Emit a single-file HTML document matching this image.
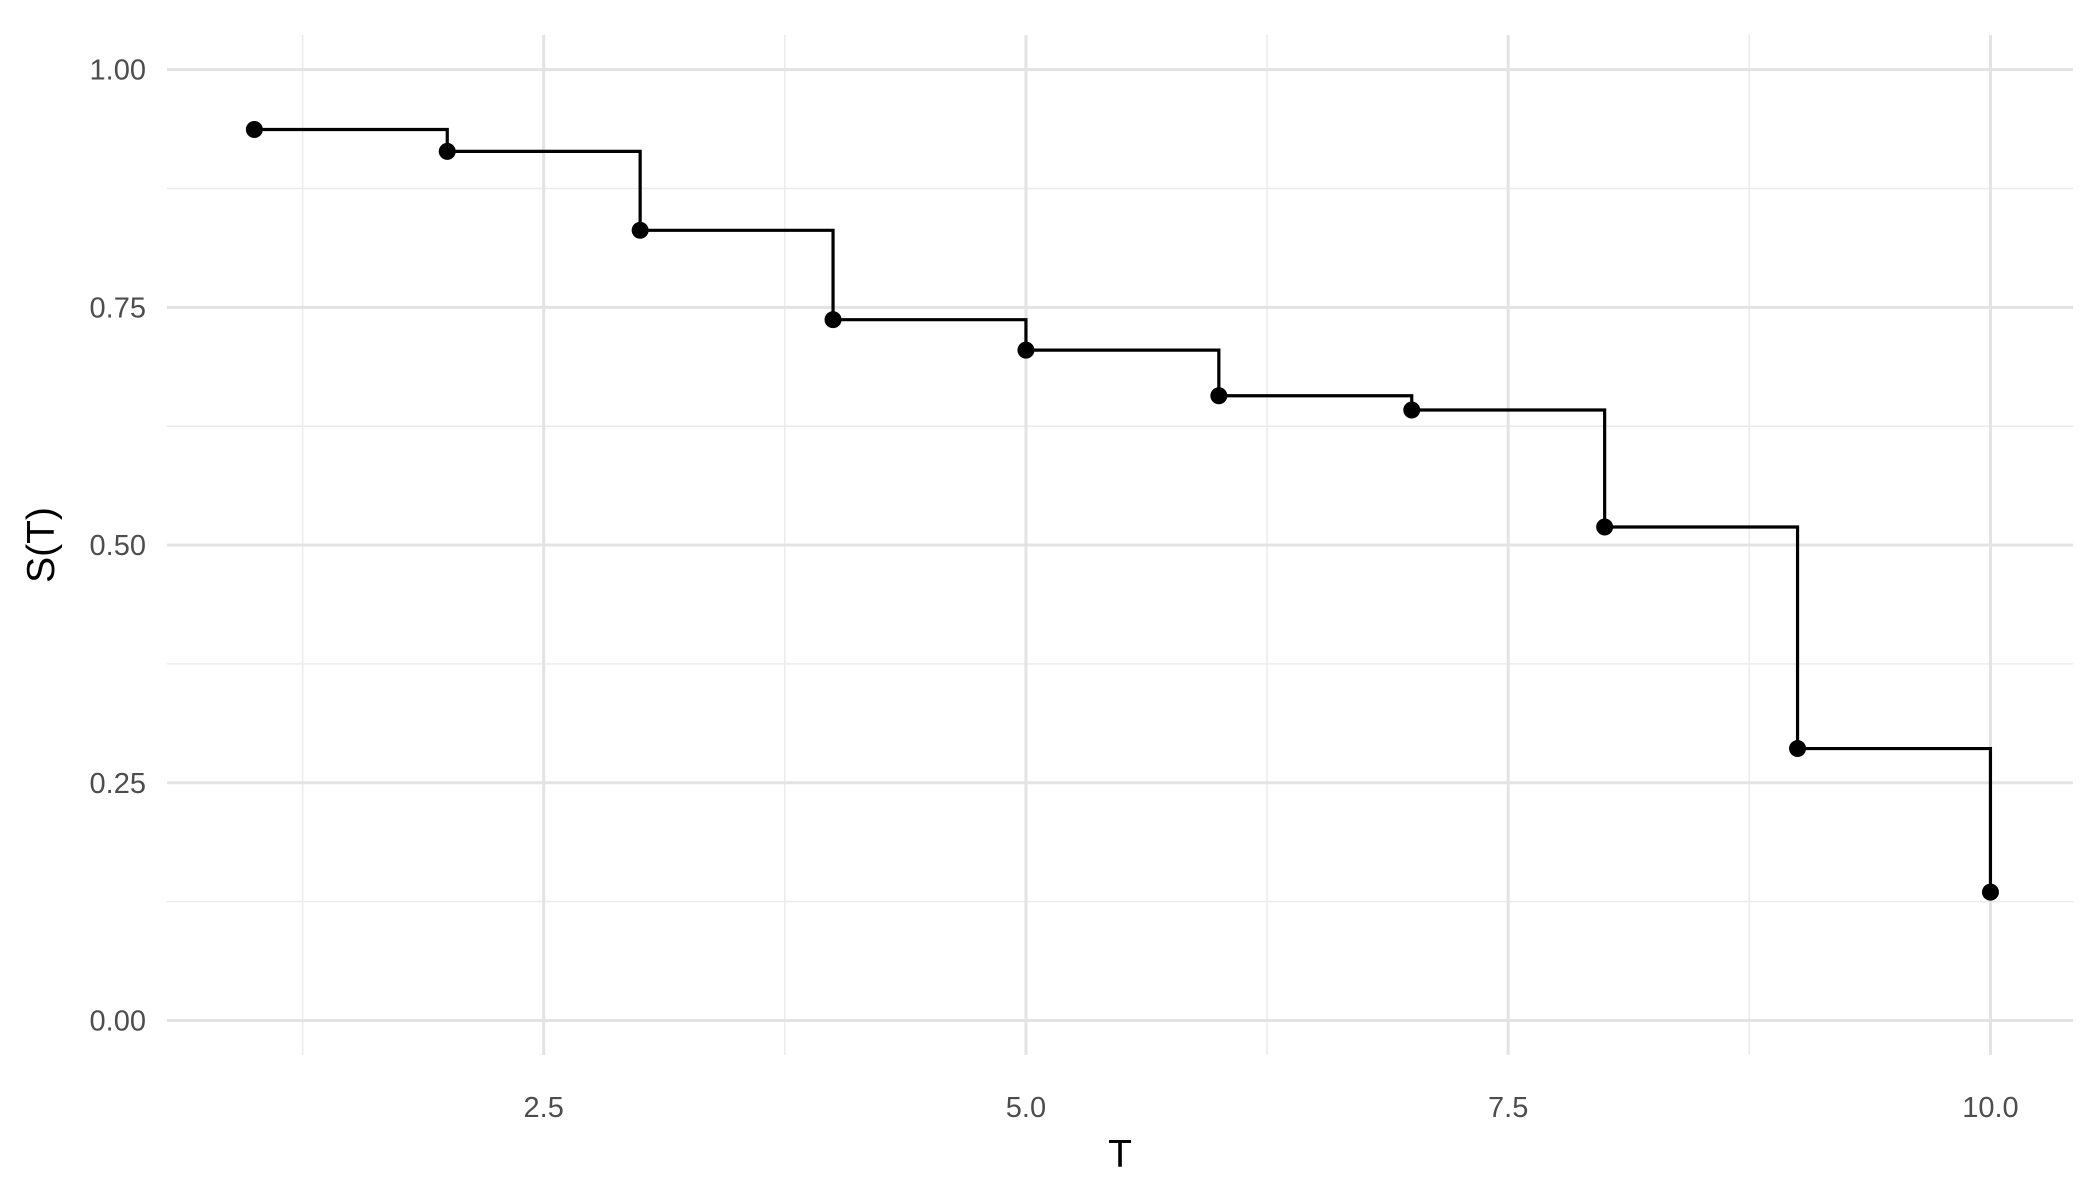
<!DOCTYPE html>
<html><head><meta charset="utf-8"><style>
html,body{margin:0;padding:0;background:#fff;}
svg{display:block;font-family:"Liberation Sans",sans-serif;}
</style></head><body>
<svg id="chart" width="2100" height="1200" viewBox="0 0 2100 1200">
<g id="grid"></g>
<g id="marks"></g>
<g id="labels"></g>
<text x="1120" y="1167" font-size="39" text-anchor="middle" fill="#000">T</text>
<text transform="translate(54,545) rotate(-90)" font-size="39" text-anchor="middle" fill="#000">S(T)</text>
</svg>
<script>
const times = [1,2,3,4,5,6,7,8,9,10];
const survival = [0.937,0.914,0.831,0.737,0.705,0.657,0.642,0.519,0.286,0.135];
const xTicks = [2.5,5.0,7.5,10.0];
const xTickLabels = ["2.5","5.0","7.5","10.0"];
const yTicks = [0,0.25,0.5,0.75,1];
const yTickLabels = ["0.00","0.25","0.50","0.75","1.00"];
const xMinor = [1.25,3.75,6.25,8.75];
const yMinor = [0.125,0.375,0.625,0.875];

const NS="http://www.w3.org/2000/svg";
const X0=167,X1=2073,Y0=1055,Y1=35;
const sx=v=>543.7+(v-2.5)*192.9;
const sy=v=>1020.5-v*950.9;
function mk(tag,attrs,parent){const e=document.createElementNS(NS,tag);for(const k in attrs)e.setAttribute(k,attrs[k]);parent.appendChild(e);return e;}
const grid=document.getElementById('grid'),marks=document.getElementById('marks'),labels=document.getElementById('labels');
xMinor.forEach(v=>{const l=mk('line',{x1:sx(v),x2:sx(v),y1:Y1,y2:Y0,stroke:'#ebebeb','stroke-width':1.5},grid);

});
yMinor.forEach(v=>{const l=mk('line',{x1:X0,x2:X1,y1:sy(v),y2:sy(v),stroke:'#ebebeb','stroke-width':1.5},grid);

});
xTicks.forEach((v,i)=>{const l=mk('line',{x1:sx(v),x2:sx(v),y1:Y1,y2:Y0,stroke:'#e3e3e3','stroke-width':3},grid);


const t=mk('text',{x:sx(v),y:1117,'font-size':29,'text-anchor':'middle',fill:'#4d4d4d'},labels);t.textContent=xTickLabels[i];

});
yTicks.forEach((v,i)=>{const l=mk('line',{x1:X0,x2:X1,y1:sy(v),y2:sy(v),stroke:'#e3e3e3','stroke-width':3},grid);


const t=mk('text',{x:146,y:sy(v)+10,'font-size':29,'text-anchor':'end',fill:'#4d4d4d'},labels);t.textContent=yTickLabels[i];

});
let d='M'+sx(times[0])+' '+sy(survival[0]);
for(let i=1;i<times.length;i++){d+=' H'+sx(times[i])+' V'+sy(survival[i]);}
const p=mk('path',{d:d,fill:'none',stroke:'#000','stroke-width':3.2},marks);


times.forEach((t,i)=>{const c=mk('circle',{cx:sx(t),cy:sy(survival[i]),r:8.5,fill:'#000'},marks);

});
</script>
</body></html>
